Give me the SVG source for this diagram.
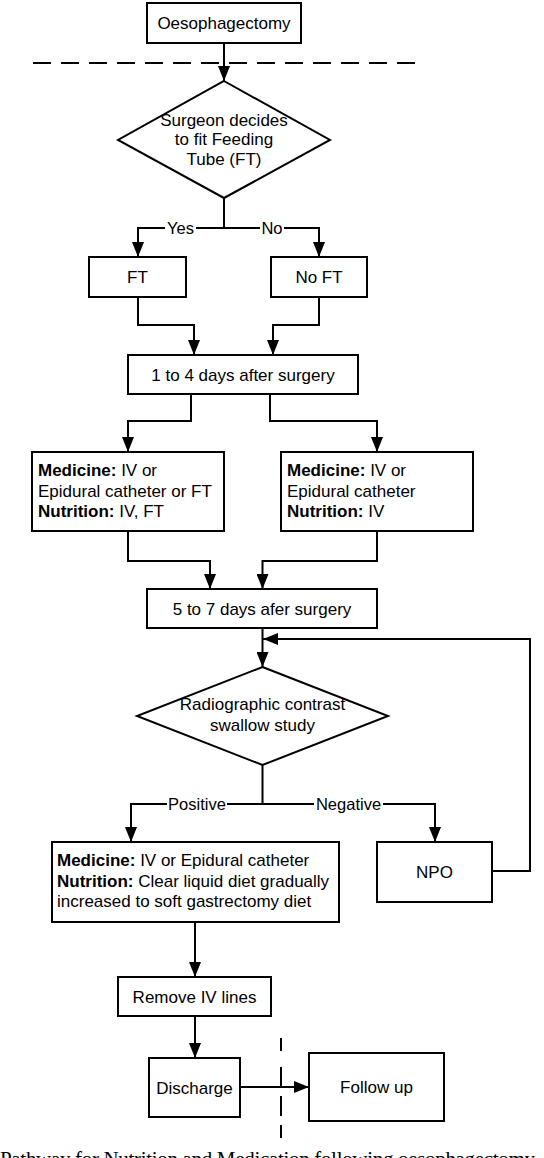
<svg xmlns="http://www.w3.org/2000/svg" width="544" height="1158" viewBox="0 0 544 1158">
<style>
  .box{fill:#fff;stroke:#000;stroke-width:2}
  .t{font-family:"Liberation Sans",Arial,sans-serif;font-size:17px;fill:#000}
  .c{text-anchor:middle}
  .lbl{font-family:"Liberation Sans",Arial,sans-serif;font-size:16.5px;fill:#000;text-anchor:middle}
  .ln{fill:none;stroke:#000;stroke-width:2}
  .arr{marker-end:url(#ah)}
  .dash{fill:none;stroke:#000;stroke-width:2;stroke-dasharray:18 10}
  b,.b{font-weight:bold}
</style>
<defs>
  <marker id="ah" markerUnits="userSpaceOnUse" markerWidth="16" markerHeight="12" refX="15" refY="6" orient="auto">
    <path d="M0,0 L15,6 L0,12 Z" fill="#000"/>
  </marker>
</defs>

<line class="dash" x1="33" y1="63" x2="415" y2="63"/>
<line class="dash" x1="281" y1="1038" x2="281" y2="1138" style="stroke-dasharray:13 16 20 9 20 9 20 9"/>

<g id="connectors">
  <path class="ln arr" d="M224,44 V81"/>
  <path class="ln arr" d="M224,198 V228 H138 V257"/>
  <path class="ln arr" d="M224,228 H319 V257"/>
  <path class="ln arr" d="M138,297 V325 H194 V355"/>
  <path class="ln arr" d="M319,297 V325 H273 V355"/>
  <path class="ln arr" d="M191,394 V421 H128 V452"/>
  <path class="ln arr" d="M270,394 V421 H377 V452"/>
  <path class="ln arr" d="M128,531 V561 H210 V589"/>
  <path class="ln arr" d="M377,531 V561 H262.5 V589"/>
  <path class="ln arr" d="M262.5,628 V667"/>
  <path class="ln arr" d="M492,871 H530 V639 H263"/>
  <path class="ln arr" d="M262.5,765 V804 H131 V842"/>
  <path class="ln arr" d="M262.5,804 H435 V842"/>
  <path class="ln arr" d="M195,922 V977"/>
  <path class="ln arr" d="M195,1016 V1058"/>
  <path class="ln arr" d="M240,1087 H309"/>
  <g id="labels">
    <rect x="165" y="218" width="31" height="20" fill="#fff"/>
    <text class="lbl" x="180.5" y="234">Yes</text>
    <rect x="260" y="218" width="24" height="20" fill="#fff"/>
    <text class="lbl" x="272" y="234">No</text>
    <rect x="167" y="794" width="60" height="20" fill="#fff"/>
    <text class="lbl" x="197" y="810">Positive</text>
    <rect x="314" y="794" width="69" height="20" fill="#fff"/>
    <text class="lbl" x="348.5" y="810">Negative</text>
  </g>
</g>

<g id="n-oeso">
  <rect class="box" x="147" y="3" width="154" height="40"/>
  <text class="t c" x="224" y="29">Oesophagectomy</text>
</g>

<g id="n-decide">
  <polygon class="box" points="224,81 330,140 224,198 118,140"/>
  <text class="t c" x="224" y="125.5">Surgeon decides</text>
  <text class="t c" x="224" y="145">to fit Feeding</text>
  <text class="t c" x="224" y="164.5">Tube (FT)</text>
</g>

<g id="n-ft">
  <rect class="box" x="89" y="257" width="97" height="40"/>
  <text class="t c" x="137.5" y="283">FT</text>
</g>

<g id="n-noft">
  <rect class="box" x="271" y="257" width="96" height="40"/>
  <text class="t c" x="319" y="283">No FT</text>
</g>

<g id="n-day14">
  <rect class="box" x="128" y="355" width="230" height="39"/>
  <text class="t c" x="243" y="381">1 to 4 days after surgery</text>
</g>

<g id="n-left">
  <rect class="box" x="32" y="452" width="192" height="79"/>
  <text class="t" x="38" y="476"><tspan class="b">Medicine:</tspan> IV or</text>
  <text class="t" x="38" y="496.5">Epidural catheter or FT</text>
  <text class="t" x="38" y="517"><tspan class="b">Nutrition:</tspan> IV, FT</text>
</g>

<g id="n-right">
  <rect class="box" x="281" y="452" width="192" height="79"/>
  <text class="t" x="287" y="476"><tspan class="b">Medicine:</tspan> IV or</text>
  <text class="t" x="287" y="496.5">Epidural catheter</text>
  <text class="t" x="287" y="517"><tspan class="b">Nutrition:</tspan> IV</text>
</g>

<g id="n-day57">
  <rect class="box" x="147" y="589" width="230" height="39"/>
  <text class="t c" x="262" y="614.5">5 to 7 days afer surgery</text>
</g>

<g id="n-swallow">
  <polygon class="box" points="262.5,667 388,716 262.5,765 137,716"/>
  <text class="t c" x="262.5" y="710">Radiographic contrast</text>
  <text class="t c" x="262.5" y="730.5">swallow study</text>
</g>

<g id="n-diet">
  <rect class="box" x="52" y="842" width="287" height="80"/>
  <text class="t" x="57" y="866"><tspan class="b">Medicine:</tspan> IV or Epidural catheter</text>
  <text class="t" x="57" y="886.5"><tspan class="b">Nutrition:</tspan> Clear liquid diet gradually</text>
  <text class="t" x="57" y="907">increased to soft gastrectomy diet</text>
</g>

<g id="n-npo">
  <rect class="box" x="377" y="842" width="115" height="60"/>
  <text class="t c" x="434.5" y="878">NPO</text>
</g>

<g id="n-removeiv">
  <rect class="box" x="118" y="977" width="153" height="39"/>
  <text class="t c" x="194.5" y="1002.5">Remove IV lines</text>
</g>

<g id="n-discharge">
  <rect class="box" x="149" y="1058" width="91" height="59"/>
  <text class="t c" x="194.5" y="1093.5">Discharge</text>
</g>

<g id="n-followup">
  <rect class="box" x="309" y="1053" width="135" height="68"/>
  <text class="t c" x="376.5" y="1093">Follow up</text>
</g>

<text x="0" y="1166" font-family="'Liberation Serif','Times New Roman',serif" font-size="21" textLength="535" lengthAdjust="spacing">Pathway for Nutrition and Medication following oesophagectomy</text>
</svg>
